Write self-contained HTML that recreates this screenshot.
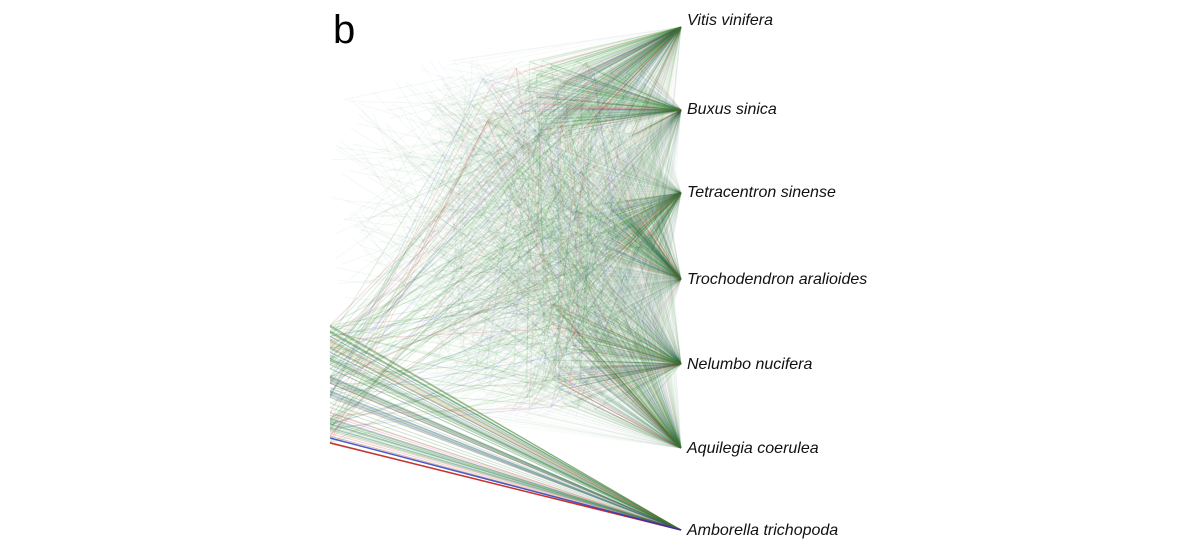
<!DOCTYPE html>
<html><head><meta charset="utf-8"><style>
html,body{margin:0;padding:0;background:#fff;width:1200px;height:546px;overflow:hidden}
#w{position:relative;width:1200px;height:546px}
svg{position:absolute;left:0;top:0}
.t{position:absolute;left:687px;font:italic 16px "Liberation Sans",sans-serif;color:#111;white-space:nowrap}
#b{position:absolute;left:333px;top:8px;font:40px "Liberation Sans",sans-serif;color:#000}
</style></head><body><div id="w">
<svg id="s" width="1200" height="546"></svg>
<div id="b">b</div>
<div class="t" style="top:12px">Vitis vinifera</div>
<div class="t" style="top:101px">Buxus sinica</div>
<div class="t" style="top:184px">Tetracentron sinense</div>
<div class="t" style="top:271px">Trochodendron aralioides</div>
<div class="t" style="top:356px">Nelumbo nucifera</div>
<div class="t" style="top:440px">Aquilegia coerulea</div>
<div class="t" style="top:522px">Amborella trichopoda</div>
</div>
<script>
var s=1234567;function r(){s=(s*16807)%2147483647;return s/2147483647;}
var tips=[[681,27],[681,110],[681,193],[681,279],[681,364],[681,448],[681,530]];
var out=[];
function L(a,b,c,d,col,o,w){out.push('<line x1="'+a.toFixed(1)+'" y1="'+b.toFixed(1)+'" x2="'+c.toFixed(1)+'" y2="'+d.toFixed(1)+'" stroke="'+col+'" stroke-opacity="'+o+'" stroke-width="'+(w||1)+'"/>');}
function col(){var q=r();return q<0.7?'#2e7d32':(q<0.85?'#3040c0':(q<0.93?'#d03030':'#30c030'));}
for(var i=0;i<2000;i++){var t=tips[Math.floor(r()*6)];var x=420+r()*240,y=60+r()*360;if(t[1]<80&&y>300)y-=200;L(x,y,t[0],t[1],col(),0.04);}
for(var i=0;i<250;i++){var x=330+r()*150,y=80+r()*300;L(x,y,450+r()*200,60+r()*340,'#2e7d32',0.05);}
for(var k=0;k<90;k++){var c=col();var ry=325+r()*120;var nx=470+r()*130,ny=60+r()*350;
L(330,ry,681,530,c,0.22);L(330,ry,nx,ny,c,0.15);
var ax=550+r()*100,ay=300+r()*110;L(nx,ny,ax,ay,c,0.1);L(ax,ay,681,364,c,0.17);L(ax,ay,681,448,c,0.17);
var bx=600+r()*60,by=200+r()*60;L(nx,ny,bx,by,c,0.1);L(bx,by,681,193,c,0.17);L(bx,by,681,279,c,0.17);
var cx=520+r()*120,cy=60+r()*80;L(nx,ny,cx,cy,c,0.1);L(cx,cy,681,27,c,0.17);L(cx,cy,681,110,c,0.17);}
L(330,443,681,530,'#d02020',0.9,1.5);L(330,438,681,530,'#2030c0',0.8,1.5);
document.getElementById('s').innerHTML=out.join('');
</script></body></html>
